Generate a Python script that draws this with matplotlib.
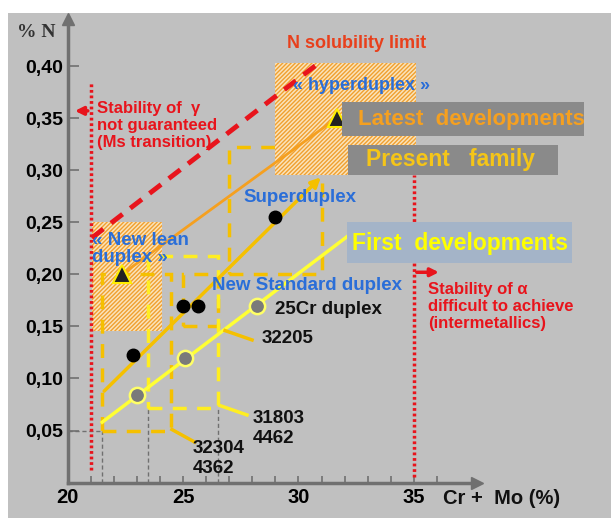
import matplotlib.pyplot as plt
from matplotlib.patches import Rectangle

# datos
y_ticks = [0.05, 0.10, 0.15, 0.20, 0.25, 0.30, 0.35, 0.40]
y_labels = ["0,05", "0,10", "0,15", "0,20", "0,25", "0,30", "0,35", "0,40"]
x_ticks = [20, 25, 30, 35]
x_labels = ["20", "25", "30", "35"]

present_x = [22.85, 25.0, 25.65, 29.0]  # puntos negros
present_y = [0.123, 0.17, 0.17, 0.255]
first_x = [23.0, 25.1, 28.2]  # puntos grises
first_y = [0.084, 0.12, 0.17]
latest_x = [22.35, 31.65]  # triangulos
latest_y = [0.20, 0.35]

present_line_x = [21.5, 31.05]
present_line_y = [0.086, 0.295]
first_line_x = [21.5, 32.15]
first_line_y = [0.058, 0.237]
nsol_x = [21.05, 31.0]
nsol_y = [0.235, 0.405]

# cajas (x0, x1, y0, y1)
lean_box = (21.05, 24.1, 0.146, 0.25)
hyper_box = (29.0, 35.1, 0.295, 0.403)
super_rect = (27.0, 31.0, 0.20, 0.322)
r32304 = (21.5, 24.5, 0.05, 0.20)
r31803 = (23.5, 26.5, 0.072, 0.218)
r32205 = (25.0, 26.5, 0.15, 0.20)

gray = "#707070"
gold = "#f5c000"
yel = "#ffee22"
red = "#e8141c"
blue = "#2a6ed8"

plt.rcParams['font.family'] = ['Liberation Sans', 'DejaVu Sans']
plt.rcParams['hatch.linewidth'] = 1.0

fig = plt.figure(figsize=(6.11, 5.18), dpi=100)
fig.patches.append(Rectangle((8 / 611, 0), 1, (518 - 13) / 518, transform=fig.transFigure,
                             facecolor="#c0c0c0", edgecolor="none", zorder=-10))
ax = fig.add_axes([0.1105, 0.0683, 0.671, 0.8946])
ax.set_facecolor("none")
ax.set_xlim(20, 37.75)
ax.set_ylim(0, 0.445)
for s in ["top", "right"]:
    ax.spines[s].set_visible(False)
for s in ["left", "bottom"]:
    ax.spines[s].set_color(gray)
    ax.spines[s].set_linewidth(2.5)
ax.plot([20], [0.445], marker="^", color=gray, markersize=8, clip_on=False)
ax.plot([37.75], [0], marker=">", color=gray, markersize=8, clip_on=False)

ax.set_yticks(y_ticks)
ax.set_yticklabels(y_labels, fontsize=14, fontweight="bold")
ax.set_xticks(x_ticks)
ax.set_xticklabels(x_labels, fontsize=14.5, fontweight="bold")
ax.set_xticks(range(21, 37), minor=True)
ax.tick_params(axis="y", direction="in", length=8, width=1.2, color=gray, pad=3)
ax.tick_params(axis="x", direction="in", length=5, width=1.2, color=gray, pad=4)
ax.tick_params(axis="x", which="minor", direction="in", length=5, width=1.2, color=gray)


def rect(r, z, **kw):
    ax.add_patch(Rectangle((r[0], r[2]), r[1] - r[0], r[3] - r[2], zorder=z, **kw))


# cajas rayadas
rect(lean_box, 2, facecolor="#fae3bb", edgecolor="#f0a030", hatch="/" * 8, lw=0)
rect(hyper_box, 4, facecolor="#fae3bb", edgecolor="#f0a030", hatch="/" * 8, lw=0)

# rectangulos punteados
rect(super_rect, 3, fill=False, edgecolor=gold, lw=2.5, ls=(0, (4, 3)))
rect(r32304, 3, fill=False, edgecolor=gold, lw=2.5, ls=(0, (4, 3)))
rect(r32205, 3, fill=False, edgecolor=gold, lw=2.5, ls=(0, (4, 3)))
rect(r31803, 3, fill=False, edgecolor=yel, lw=2.5, ls=(0, (4, 3)))

# guias grises
ax.plot([20, 21.5], [0.05, 0.05], color=gray, lw=1, ls=(0, (3, 2)), zorder=2)
ax.plot([21.5, 21.5], [0, 0.05], color=gray, lw=1, ls=(0, (3, 2)), zorder=2)
ax.plot([23.5, 23.5], [0, 0.072], color=gray, lw=1, ls=(0, (3, 2)), zorder=2)
ax.plot([26.5, 26.5], [0, 0.072], color=gray, lw=1, ls=(0, (3, 2)), zorder=2)

# limites rojos
ax.plot([21, 21], [0.0125, 0.384], color=red, lw=2.5, ls=(0, (0.8, 0.8)), zorder=5)
ax.plot([35, 35], [0.005, 0.295], color=red, lw=2.5, ls=(0, (0.8, 0.8)), zorder=5)
ax.plot(nsol_x, nsol_y, color=red, lw=3.5, ls=(0, (3, 2)), zorder=6)
ax.annotate("", xy=(20.2, 0.357), xytext=(21.0, 0.357),
            arrowprops=dict(arrowstyle="-|>", color=red, lw=2.5, mutation_scale=12), zorder=6)
ax.annotate("", xy=(36.2, 0.202), xytext=(35.0, 0.202),
            arrowprops=dict(arrowstyle="-|>", color=red, lw=2.5, mutation_scale=12),
            annotation_clip=False, zorder=6)

# lineas de familias
ax.plot(latest_x, latest_y, color="#f5a020", lw=2, zorder=6)
ax.annotate("", xy=(present_line_x[1], present_line_y[1]), xytext=(present_line_x[0], present_line_y[0]),
            arrowprops=dict(arrowstyle="-|>", color=gold, lw=2.5, mutation_scale=14), zorder=6)
ax.plot(first_line_x, first_line_y, color="#ffff33", lw=2.5, zorder=6)

ax.plot(present_x, present_y, "o", color="black", markersize=9, zorder=7)
ax.plot(first_x, first_y, "o", markerfacecolor="#7a7a7a", markeredgecolor="#ffff66",
        markeredgewidth=1.8, markersize=11, zorder=7)
ax.plot(latest_x, latest_y, "^", markerfacecolor="#222222", markeredgecolor="#ffee00",
        markeredgewidth=1.5, markersize=13, zorder=8)

# lineas guia de etiquetas
ax.plot([26.82, 27.99], [0.146, 0.137], color=gold, lw=2.5, zorder=6)
ax.plot([26.6, 27.77], [0.074, 0.065], color=yel, lw=2.5, zorder=6)
ax.plot([24.52, 25.5], [0.051, 0.039], color=gold, lw=2.5, zorder=6)

# cajas de texto
ax.add_patch(Rectangle((31.88, 0.3327), 10.5, 0.0327, facecolor="#8a8a8a", edgecolor="none",
                       zorder=9, clip_on=False))
ax.add_patch(Rectangle((32.14, 0.295), 9.1, 0.029, facecolor="#8a8a8a", edgecolor="none",
                       zorder=9, clip_on=False))
ax.add_patch(Rectangle((32.1, 0.2106), 9.75, 0.0394, facecolor="#a4b4c8", edgecolor="none",
                       zorder=9, clip_on=False))
ax.text(37.5, 0.349, "Latest  developments", color="#f5a020", fontsize=16, fontweight="bold",
        ha="center", va="center", zorder=10, clip_on=False)
ax.text(36.56, 0.31, "Present   family", color="#f5c518", fontsize=16.5, fontweight="bold",
        ha="center", va="center", zorder=10, clip_on=False)
ax.text(36.99, 0.23, "First  developments", color="#ffff00", fontsize=16.5, fontweight="bold",
        ha="center", va="center", zorder=10, clip_on=False)

# textos
ax.text(29.5, 0.422, "N solubility limit", color="#e8401c", fontsize=13, fontweight="bold",
        va="center", zorder=10)
ax.text(29.76, 0.381, "« hyperduplex »", color=blue, fontsize=13, fontweight="bold",
        va="center", zorder=10)
ax.text(27.6, 0.274, "Superduplex", color=blue, fontsize=13.5, fontweight="bold", va="center", zorder=10)
ax.text(26.26, 0.189, "New Standard duplex", color=blue, fontsize=13.5, fontweight="bold",
        va="center", zorder=10)
ax.text(21.05, 0.224, "« New lean\nduplex »", color=blue, fontsize=13.5, fontweight="bold",
        va="center", linespacing=1.0, zorder=10)
ax.text(28.98, 0.166, "25Cr duplex", color="#111111", fontsize=13.5, fontweight="bold", va="center", zorder=10)
ax.text(28.42, 0.138, "32205", color="#111111", fontsize=13.5, fontweight="bold", va="center", zorder=10)
ax.text(28.0, 0.052, "31803\n4462", color="#111111", fontsize=13.5, fontweight="bold", va="center",
        linespacing=1.2, zorder=10)
ax.text(25.43, 0.023, "32304\n4362", color="#111111", fontsize=13.5, fontweight="bold", va="center",
        linespacing=1.2, zorder=10)
ax.text(21.28, 0.343, "Stability of  γ\nnot guaranteed\n(Ms transition)", color=red, fontsize=12,
        fontweight="bold", va="center", linespacing=1.15, zorder=10)
ax.text(35.6, 0.169, "Stability of α\ndifficult to achieve\n(intermetallics)", color=red, fontsize=12,
        fontweight="bold", va="center", linespacing=1.15, zorder=10, clip_on=False)
ax.text(18.64, 0.4327, "% N", color="#333333", fontsize=14, fontweight="bold", ha="center", va="center",
        family=["Liberation Serif"], clip_on=False)
ax.text(36.25, -0.0154, "Cr +  Mo (%)", color="#111111", fontsize=14.5, fontweight="bold", va="center",
        clip_on=False)

plt.savefig("out.png", dpi=100)
